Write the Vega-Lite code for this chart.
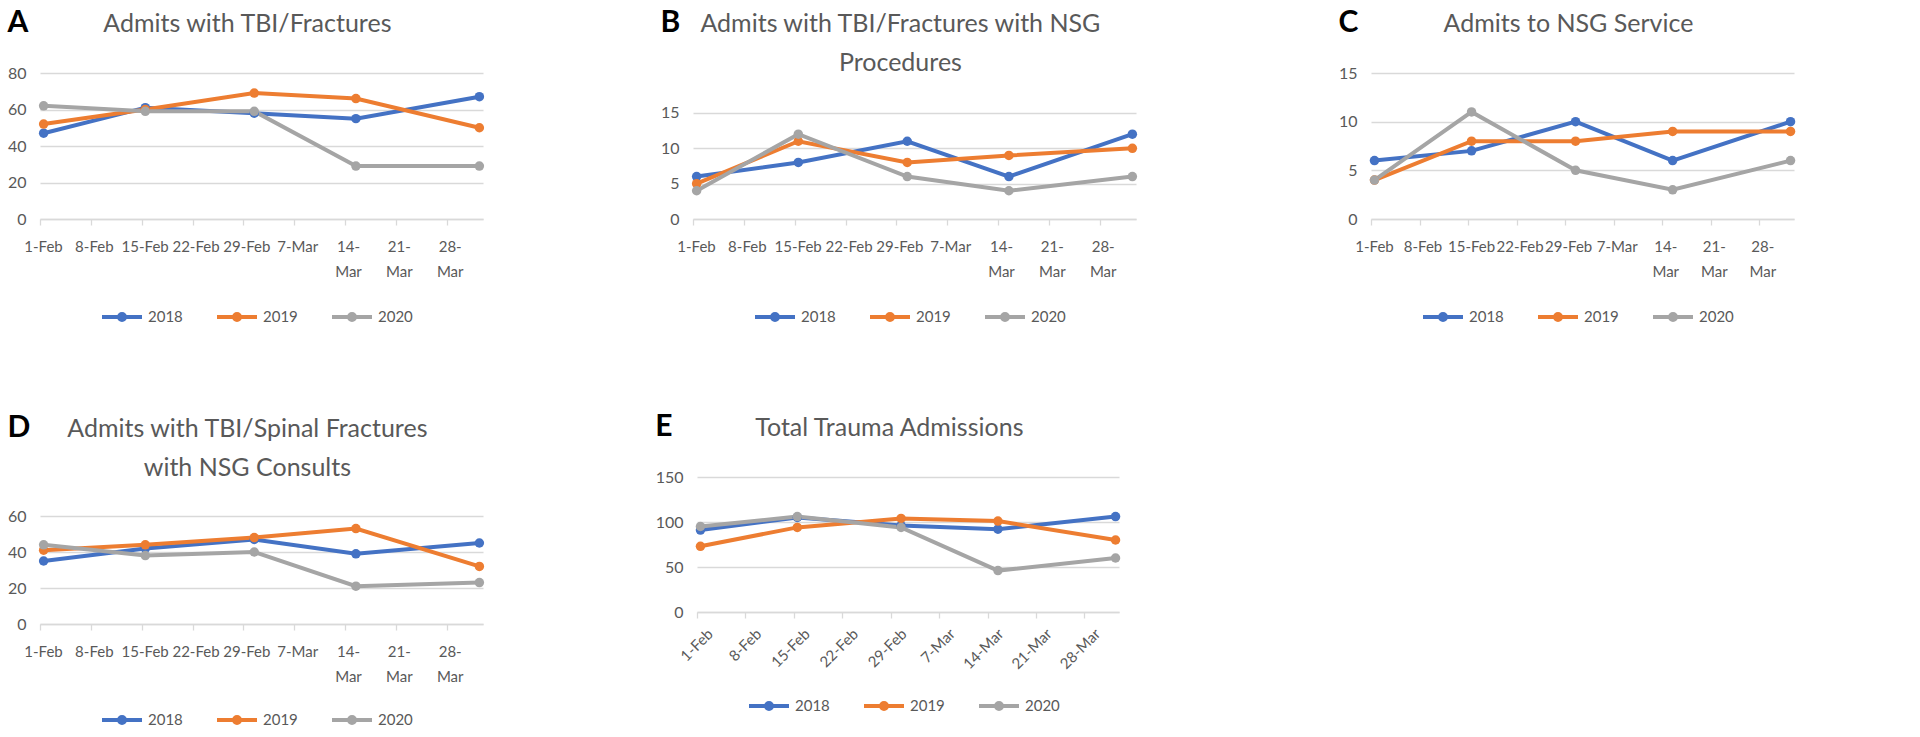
{
  "$schema": "https://vega.github.io/schema/vega-lite/v6.json",
  "background": "white",
  "padding": {"left": 7, "top": 8, "right": 0, "bottom": 0},
  "datasets": {
    "d": [
      {"panel": "A", "date": "2020-02-01", "year": "2018", "count": 47},
      {"panel": "A", "date": "2020-02-15", "year": "2018", "count": 61},
      {"panel": "A", "date": "2020-03-01", "year": "2018", "count": 58},
      {"panel": "A", "date": "2020-03-15", "year": "2018", "count": 55},
      {"panel": "A", "date": "2020-04-01", "year": "2018", "count": 67},
      {"panel": "A", "date": "2020-02-01", "year": "2019", "count": 52},
      {"panel": "A", "date": "2020-02-15", "year": "2019", "count": 60},
      {"panel": "A", "date": "2020-03-01", "year": "2019", "count": 69},
      {"panel": "A", "date": "2020-03-15", "year": "2019", "count": 66},
      {"panel": "A", "date": "2020-04-01", "year": "2019", "count": 50},
      {"panel": "A", "date": "2020-02-01", "year": "2020", "count": 62},
      {"panel": "A", "date": "2020-02-15", "year": "2020", "count": 59},
      {"panel": "A", "date": "2020-03-01", "year": "2020", "count": 59},
      {"panel": "A", "date": "2020-03-15", "year": "2020", "count": 29},
      {"panel": "A", "date": "2020-04-01", "year": "2020", "count": 29},

      {"panel": "B", "date": "2020-02-01", "year": "2018", "count": 6},
      {"panel": "B", "date": "2020-02-15", "year": "2018", "count": 8},
      {"panel": "B", "date": "2020-03-01", "year": "2018", "count": 11},
      {"panel": "B", "date": "2020-03-15", "year": "2018", "count": 6},
      {"panel": "B", "date": "2020-04-01", "year": "2018", "count": 12},
      {"panel": "B", "date": "2020-02-01", "year": "2019", "count": 5},
      {"panel": "B", "date": "2020-02-15", "year": "2019", "count": 11},
      {"panel": "B", "date": "2020-03-01", "year": "2019", "count": 8},
      {"panel": "B", "date": "2020-03-15", "year": "2019", "count": 9},
      {"panel": "B", "date": "2020-04-01", "year": "2019", "count": 10},
      {"panel": "B", "date": "2020-02-01", "year": "2020", "count": 4},
      {"panel": "B", "date": "2020-02-15", "year": "2020", "count": 12},
      {"panel": "B", "date": "2020-03-01", "year": "2020", "count": 6},
      {"panel": "B", "date": "2020-03-15", "year": "2020", "count": 4},
      {"panel": "B", "date": "2020-04-01", "year": "2020", "count": 6},

      {"panel": "C", "date": "2020-02-01", "year": "2018", "count": 6},
      {"panel": "C", "date": "2020-02-15", "year": "2018", "count": 7},
      {"panel": "C", "date": "2020-03-01", "year": "2018", "count": 10},
      {"panel": "C", "date": "2020-03-15", "year": "2018", "count": 6},
      {"panel": "C", "date": "2020-04-01", "year": "2018", "count": 10},
      {"panel": "C", "date": "2020-02-01", "year": "2019", "count": 4},
      {"panel": "C", "date": "2020-02-15", "year": "2019", "count": 8},
      {"panel": "C", "date": "2020-03-01", "year": "2019", "count": 8},
      {"panel": "C", "date": "2020-03-15", "year": "2019", "count": 9},
      {"panel": "C", "date": "2020-04-01", "year": "2019", "count": 9},
      {"panel": "C", "date": "2020-02-01", "year": "2020", "count": 4},
      {"panel": "C", "date": "2020-02-15", "year": "2020", "count": 11},
      {"panel": "C", "date": "2020-03-01", "year": "2020", "count": 5},
      {"panel": "C", "date": "2020-03-15", "year": "2020", "count": 3},
      {"panel": "C", "date": "2020-04-01", "year": "2020", "count": 6},

      {"panel": "D", "date": "2020-02-01", "year": "2018", "count": 35},
      {"panel": "D", "date": "2020-02-15", "year": "2018", "count": 42},
      {"panel": "D", "date": "2020-03-01", "year": "2018", "count": 47},
      {"panel": "D", "date": "2020-03-15", "year": "2018", "count": 39},
      {"panel": "D", "date": "2020-04-01", "year": "2018", "count": 45},
      {"panel": "D", "date": "2020-02-01", "year": "2019", "count": 41},
      {"panel": "D", "date": "2020-02-15", "year": "2019", "count": 44},
      {"panel": "D", "date": "2020-03-01", "year": "2019", "count": 48},
      {"panel": "D", "date": "2020-03-15", "year": "2019", "count": 53},
      {"panel": "D", "date": "2020-04-01", "year": "2019", "count": 32},
      {"panel": "D", "date": "2020-02-01", "year": "2020", "count": 44},
      {"panel": "D", "date": "2020-02-15", "year": "2020", "count": 38},
      {"panel": "D", "date": "2020-03-01", "year": "2020", "count": 40},
      {"panel": "D", "date": "2020-03-15", "year": "2020", "count": 21},
      {"panel": "D", "date": "2020-04-01", "year": "2020", "count": 23},

      {"panel": "E", "date": "2020-02-01", "year": "2018", "count": 91},
      {"panel": "E", "date": "2020-02-15", "year": "2018", "count": 105},
      {"panel": "E", "date": "2020-03-01", "year": "2018", "count": 96},
      {"panel": "E", "date": "2020-03-15", "year": "2018", "count": 92},
      {"panel": "E", "date": "2020-04-01", "year": "2018", "count": 106},
      {"panel": "E", "date": "2020-02-01", "year": "2019", "count": 73},
      {"panel": "E", "date": "2020-02-15", "year": "2019", "count": 94},
      {"panel": "E", "date": "2020-03-01", "year": "2019", "count": 104},
      {"panel": "E", "date": "2020-03-15", "year": "2019", "count": 101},
      {"panel": "E", "date": "2020-04-01", "year": "2019", "count": 80},
      {"panel": "E", "date": "2020-02-01", "year": "2020", "count": 95},
      {"panel": "E", "date": "2020-02-15", "year": "2020", "count": 106},
      {"panel": "E", "date": "2020-03-01", "year": "2020", "count": 94},
      {"panel": "E", "date": "2020-03-15", "year": "2020", "count": 46},
      {"panel": "E", "date": "2020-04-01", "year": "2020", "count": 60}
    ]
  },
  "data": {"name": "d"},
  "spacing": 84,
  "resolve": {"scale": {"color": "independent"}, "legend": {"color": "independent"}},
  "vconcat": [
    {
      "spacing": 172,
      "resolve": {"scale": {"color": "independent"}, "legend": {"color": "independent"}},
      "hconcat": [
        {
          "title": {"text": "A", "anchor": "start", "fontSize": 30, "fontWeight": "bold", "color": "#000000", "offset": -26},
          "resolve": {"scale": {"color": "independent"}, "legend": {"color": "independent"}},
          "vconcat": [
            {
              "width": 443, "height": 146,
              "title": {"text": "Admits with TBI/Fractures"},
              "transform": [{"filter": "datum.panel === 'A'"}],
              "mark": {"type": "line", "strokeWidth": 4, "point": {"filled": true, "size": 90, "opacity": 1}},
              "encoding": {
                "x": {"field": "date", "type": "temporal", "timeUnit": "utcyearmonthdate", "bandPosition": 0.5, "title": null,
                  "scale": {"domain": [{"year": 2020, "month": 2, "date": 1, "utc": true}, {"year": 2020, "month": 4, "date": 2, "utc": true}]},
                  "axis": {"values": [{"year": 2020, "month": 2, "date": 1, "utc": true}, {"year": 2020, "month": 2, "date": 8, "utc": true}, {"year": 2020, "month": 2, "date": 15, "utc": true}, {"year": 2020, "month": 2, "date": 22, "utc": true}, {"year": 2020, "month": 2, "date": 29, "utc": true}, {"year": 2020, "month": 3, "date": 7, "utc": true}, {"year": 2020, "month": 3, "date": 14, "utc": true}, {"year": 2020, "month": 3, "date": 21, "utc": true}, {"year": 2020, "month": 3, "date": 28, "utc": true}],
                    "labelExpr": "datum.value >= utc(2020,2,14) ? [utcFormat(datum.value,'%-d') + '-', utcFormat(datum.value,'%b')] : utcFormat(datum.value,'%-d-%b')"}},
                "y": {"field": "count", "type": "quantitative", "title": null, "scale": {"domain": [0, 80], "nice": false}, "axis": {"values": [0, 20, 40, 60, 80]}},
                "color": {"field": "year", "type": "nominal", "scale": {"domain": ["2018", "2019", "2020"], "range": ["#4472C4", "#ED7D31", "#A5A5A5"]}, "legend": {"offset": 26}}
              }
            }
          ]
        },
        {
          "spacing": 197,
          "resolve": {"scale": {"color": "independent"}, "legend": {"color": "independent"}},
          "hconcat": [
            {
              "title": {"text": "B", "anchor": "start", "fontSize": 30, "fontWeight": "bold", "color": "#000000", "offset": -26},
              "resolve": {"scale": {"color": "independent"}, "legend": {"color": "independent"}},
              "vconcat": [
                {
                  "width": 443, "height": 146,
                  "title": {"text": ["Admits with TBI/Fractures with NSG", "Procedures"], "offset": -3},
                  "transform": [{"filter": "datum.panel === 'B'"}],
                  "mark": {"type": "line", "strokeWidth": 4, "point": {"filled": true, "size": 90, "opacity": 1}},
                  "encoding": {
                    "x": {"field": "date", "type": "temporal", "timeUnit": "utcyearmonthdate", "bandPosition": 0.5, "title": null,
                      "scale": {"domain": [{"year": 2020, "month": 2, "date": 1, "utc": true}, {"year": 2020, "month": 4, "date": 2, "utc": true}]},
                      "axis": {"values": [{"year": 2020, "month": 2, "date": 1, "utc": true}, {"year": 2020, "month": 2, "date": 8, "utc": true}, {"year": 2020, "month": 2, "date": 15, "utc": true}, {"year": 2020, "month": 2, "date": 22, "utc": true}, {"year": 2020, "month": 2, "date": 29, "utc": true}, {"year": 2020, "month": 3, "date": 7, "utc": true}, {"year": 2020, "month": 3, "date": 14, "utc": true}, {"year": 2020, "month": 3, "date": 21, "utc": true}, {"year": 2020, "month": 3, "date": 28, "utc": true}],
                        "labelExpr": "datum.value >= utc(2020,2,14) ? [utcFormat(datum.value,'%-d') + '-', utcFormat(datum.value,'%b')] : utcFormat(datum.value,'%-d-%b')"}},
                    "y": {"field": "count", "type": "quantitative", "title": null, "scale": {"domain": [0, 20.66], "nice": false}, "axis": {"values": [0, 5, 10, 15]}},
                    "color": {"field": "year", "type": "nominal", "scale": {"domain": ["2018", "2019", "2020"], "range": ["#4472C4", "#ED7D31", "#A5A5A5"]}, "legend": {"offset": 26}}
                  }
                }
              ]
            },
            {
              "title": {"text": "C", "anchor": "start", "fontSize": 30, "fontWeight": "bold", "color": "#000000", "offset": -26},
              "resolve": {"scale": {"color": "independent"}, "legend": {"color": "independent"}},
              "vconcat": [
                {
                  "width": 423, "height": 146,
                  "title": {"text": "Admits to NSG Service"},
                  "transform": [{"filter": "datum.panel === 'C'"}],
                  "mark": {"type": "line", "strokeWidth": 4, "point": {"filled": true, "size": 90, "opacity": 1}},
                  "encoding": {
                    "x": {"field": "date", "type": "temporal", "timeUnit": "utcyearmonthdate", "bandPosition": 0.5, "title": null,
                      "scale": {"domain": [{"year": 2020, "month": 2, "date": 1, "utc": true}, {"year": 2020, "month": 4, "date": 2, "utc": true}]},
                      "axis": {"values": [{"year": 2020, "month": 2, "date": 1, "utc": true}, {"year": 2020, "month": 2, "date": 8, "utc": true}, {"year": 2020, "month": 2, "date": 15, "utc": true}, {"year": 2020, "month": 2, "date": 22, "utc": true}, {"year": 2020, "month": 2, "date": 29, "utc": true}, {"year": 2020, "month": 3, "date": 7, "utc": true}, {"year": 2020, "month": 3, "date": 14, "utc": true}, {"year": 2020, "month": 3, "date": 21, "utc": true}, {"year": 2020, "month": 3, "date": 28, "utc": true}],
                        "labelExpr": "datum.value >= utc(2020,2,14) ? [utcFormat(datum.value,'%-d') + '-', utcFormat(datum.value,'%b')] : utcFormat(datum.value,'%-d-%b')"}},
                    "y": {"field": "count", "type": "quantitative", "title": null, "scale": {"domain": [0, 15], "nice": false}, "axis": {"values": [0, 5, 10, 15]}},
                    "color": {"field": "year", "type": "nominal", "scale": {"domain": ["2018", "2019", "2020"], "range": ["#4472C4", "#ED7D31", "#A5A5A5"]}, "legend": {"offset": 26}}
                  }
                }
              ]
            }
          ]
        }
      ]
    },
    {
      "spacing": 167,
      "resolve": {"scale": {"color": "independent"}, "legend": {"color": "independent"}},
      "hconcat": [
        {
          "title": {"text": "D", "anchor": "start", "fontSize": 30, "fontWeight": "bold", "color": "#000000", "offset": -26},
          "resolve": {"scale": {"color": "independent"}, "legend": {"color": "independent"}},
          "vconcat": [
            {
              "width": 443, "height": 147,
              "title": {"text": ["Admits with TBI/Spinal Fractures", "with NSG Consults"], "offset": -4},
              "transform": [{"filter": "datum.panel === 'D'"}],
              "mark": {"type": "line", "strokeWidth": 4, "point": {"filled": true, "size": 90, "opacity": 1}},
              "encoding": {
                "x": {"field": "date", "type": "temporal", "timeUnit": "utcyearmonthdate", "bandPosition": 0.5, "title": null,
                  "scale": {"domain": [{"year": 2020, "month": 2, "date": 1, "utc": true}, {"year": 2020, "month": 4, "date": 2, "utc": true}]},
                  "axis": {"values": [{"year": 2020, "month": 2, "date": 1, "utc": true}, {"year": 2020, "month": 2, "date": 8, "utc": true}, {"year": 2020, "month": 2, "date": 15, "utc": true}, {"year": 2020, "month": 2, "date": 22, "utc": true}, {"year": 2020, "month": 2, "date": 29, "utc": true}, {"year": 2020, "month": 3, "date": 7, "utc": true}, {"year": 2020, "month": 3, "date": 14, "utc": true}, {"year": 2020, "month": 3, "date": 21, "utc": true}, {"year": 2020, "month": 3, "date": 28, "utc": true}],
                    "labelExpr": "datum.value >= utc(2020,2,14) ? [utcFormat(datum.value,'%-d') + '-', utcFormat(datum.value,'%b')] : utcFormat(datum.value,'%-d-%b')"}},
                "y": {"field": "count", "type": "quantitative", "title": null, "scale": {"domain": [0, 81.67], "nice": false}, "axis": {"values": [0, 20, 40, 60]}},
                "color": {"field": "year", "type": "nominal", "scale": {"domain": ["2018", "2019", "2020"], "range": ["#4472C4", "#ED7D31", "#A5A5A5"]}, "legend": {"offset": 24}}
              }
            }
          ]
        },
        {
          "title": {"text": "E", "anchor": "start", "fontSize": 30, "fontWeight": "bold", "color": "#000000", "offset": -26},
          "resolve": {"scale": {"color": "independent"}, "legend": {"color": "independent"}},
          "vconcat": [
            {
              "width": 422, "height": 135,
              "title": {"text": "Total Trauma Admissions"},
              "transform": [{"filter": "datum.panel === 'E'"}],
              "mark": {"type": "line", "strokeWidth": 4, "point": {"filled": true, "size": 90, "opacity": 1}},
              "encoding": {
                "x": {"field": "date", "type": "temporal", "timeUnit": "utcyearmonthdate", "bandPosition": 0.5, "title": null,
                  "scale": {"domain": [{"year": 2020, "month": 2, "date": 1, "utc": true}, {"year": 2020, "month": 4, "date": 2, "utc": true}]},
                  "axis": {"values": [{"year": 2020, "month": 2, "date": 1, "utc": true}, {"year": 2020, "month": 2, "date": 8, "utc": true}, {"year": 2020, "month": 2, "date": 15, "utc": true}, {"year": 2020, "month": 2, "date": 22, "utc": true}, {"year": 2020, "month": 2, "date": 29, "utc": true}, {"year": 2020, "month": 3, "date": 7, "utc": true}, {"year": 2020, "month": 3, "date": 14, "utc": true}, {"year": 2020, "month": 3, "date": 21, "utc": true}, {"year": 2020, "month": 3, "date": 28, "utc": true}],
                    "labelExpr": "utcFormat(datum.value,'%-d-%b')", "labelAngle": -45, "labelPadding": 8, "labelOffset": 8}},
                "y": {"field": "count", "type": "quantitative", "title": null, "scale": {"domain": [0, 150], "nice": false}, "axis": {"values": [0, 50, 100, 150]}},
                "color": {"field": "year", "type": "nominal", "scale": {"domain": ["2018", "2019", "2020"], "range": ["#4472C4", "#ED7D31", "#A5A5A5"]}, "legend": {"offset": 22}}
              }
            }
          ]
        }
      ]
    }
  ],
  "config": {
    "font": "Lato",
    "view": {"stroke": null},
    "title": {"font": "Lato", "fontSize": 25, "fontWeight": "normal", "color": "#595959", "offset": 28, "lineHeight": 39, "frame": "bounds"},
    "axis": {"labelFont": "Lato", "labelFontSize": 16, "labelColor": "#595959", "gridColor": "#D9D9D9", "gridWidth": 1.3},
    "axisX": {"grid": false, "labelFontSize": 15, "domainColor": "#D9D9D9", "domainWidth": 1.3, "tickColor": "#D9D9D9", "tickWidth": 1.3, "tickSize": 6, "labelPadding": 14, "labelLineHeight": 25, "labelOverlap": false, "labelFlush": false, "labelBound": false, "labelOffset": 3},
    "axisY": {"domain": false, "ticks": false, "tickSize": 0, "labelPadding": 14},
    "legend": {
      "orient": "bottom", "direction": "horizontal", "title": null,
      "symbolType": "M-2,0L2,0M0.3,0A0.3,0.3,0,1,1,-0.3,0A0.3,0.3,0,1,1,0.3,0",
      "symbolSize": 400, "symbolStrokeWidth": 4,
      "labelFont": "Lato", "labelFontSize": 15, "labelColor": "#595959",
      "labelOffset": 14, "columnPadding": 26,
      "layout": {"bottom": {"anchor": "middle"}}
    }
  }
}
